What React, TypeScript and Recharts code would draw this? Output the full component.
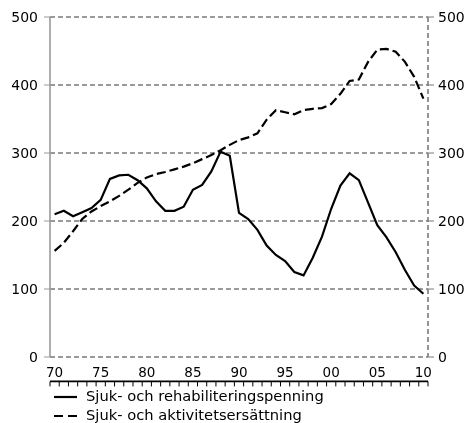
import React from "react";
import { LineChart, Line, XAxis, YAxis, CartesianGrid, Legend } from "recharts";

const years: number[] = [
  1970, 1971, 1972, 1973, 1974, 1975, 1976, 1977, 1978, 1979,
  1980, 1981, 1982, 1983, 1984, 1985, 1986, 1987, 1988, 1989,
  1990, 1991, 1992, 1993, 1994, 1995, 1996, 1997, 1998, 1999,
  2000, 2001, 2002, 2003, 2004, 2005, 2006, 2007, 2008, 2009, 2010,
];

const sjukRehab: number[] = [
  210, 215, 207, 213, 219, 231, 262, 267, 268, 260,
  248, 229, 215, 215, 221, 246, 253, 273, 302, 296,
  212, 203, 187, 164, 150, 141, 125, 120, 146, 177,
  218, 252, 270, 260, 227, 194, 176, 154, 128, 105, 93,
];

const sjukAktivitet: number[] = [
  156, 168, 185, 203, 214, 222, 229, 237, 246, 256,
  264, 269, 272, 276, 280, 285, 291, 297, 304, 312,
  319, 323, 329, 349, 363, 360, 357, 363, 365, 366,
  372, 387, 406, 408, 434, 452, 453, 449, 434, 412, 380,
];

const seriesNames: string[] = [
  "Sjuk- och rehabiliteringspenning",
  "Sjuk- och aktivitetsersättning",
];

const yTicks: number[] = [0, 100, 200, 300, 400, 500];
const xLabelTicks: number[] = [1970, 1975, 1980, 1985, 1990, 1995, 2000, 2005, 2010];
const xBoundaryTicks: number[] = [...years.map((y) => y - 0.5), years[years.length - 1] + 0.5];

const data = years.map((year, i) => ({
  year,
  rehab: sjukRehab[i],
  aktivitet: sjukAktivitet[i],
}));

const FONT = "'DejaVu Sans', Verdana, sans-serif";

const LegendContent = () => (
  <div style={{ fontFamily: FONT, fontSize: 14.7, color: "#000" }}>
    {seriesNames.map((name, i) => (
      <div
        key={name}
        style={{ display: "flex", alignItems: "center", height: 18.8, paddingLeft: 46 }}
      >
        <svg width={23} height={4} style={{ marginRight: 9 }}>
          <line
            x1={0}
            y1={2}
            x2={23}
            y2={2}
            stroke="#000"
            strokeWidth={2.2}
            strokeDasharray={i === 1 ? "9 5" : undefined}
          />
        </svg>
        <span style={{ whiteSpace: "nowrap", lineHeight: "18.8px" }}>{name}</span>
      </div>
    ))}
  </div>
);

export default function App() {
  return (
    <div style={{ position: "fixed", left: 8, top: 8 }}>
      <LineChart
        width={460}
        height={417}
        data={data}
        margin={{ top: 9, right: 0, left: 0, bottom: 0 }}
        style={{ fontFamily: FONT }}
      >
        <CartesianGrid
          vertical={false}
          stroke="#7a7a7a"
          strokeWidth={1.6}
          strokeDasharray="5 3"
        />
        <XAxis
          xAxisId="m"
          dataKey="year"
          type="number"
          domain={[1969.5, 2010.5]}
          ticks={xBoundaryTicks}
          interval={0}
          tickFormatter={() => ""}
          tickSize={5}
          height={6}
          axisLine={{ stroke: "#000", strokeWidth: 1.6 }}
          tickLine={{ stroke: "#000", strokeWidth: 1 }}
        />
        <XAxis
          dataKey="year"
          type="number"
          domain={[1969.5, 2010.5]}
          ticks={xLabelTicks}
          interval={0}
          axisLine={false}
          tickLine={false}
          tickSize={0}
          tickMargin={10}
          height={24.4}
          tick={{ fill: "#000", fontSize: 13.5, fontFamily: FONT }}
          tickFormatter={(v: number) => String(v % 100).padStart(2, "0")}
        />
        <YAxis
          domain={[0, 500]}
          ticks={yTicks}
          interval={0}
          width={42}
          tickSize={6}
          tickMargin={6}
          axisLine={{ stroke: "#999", strokeWidth: 1.6 }}
          tickLine={{ stroke: "#999", strokeWidth: 1 }}
          tick={{ fill: "#000", fontSize: 14, fontFamily: FONT }}
        />
        <YAxis
          yAxisId="r"
          orientation="right"
          domain={[0, 500]}
          ticks={yTicks}
          interval={0}
          width={40}
          tickSize={6}
          tickMargin={4}
          axisLine={{ stroke: "#7a7a7a", strokeWidth: 1.6, strokeDasharray: "5 3" }}
          tickLine={{ stroke: "#7a7a7a", strokeWidth: 1 }}
          tick={{ fill: "#000", fontSize: 14, fontFamily: FONT, textAnchor: "start" }}
        />
        <Line
          dataKey="rehab"
          name={seriesNames[0]}
          type="linear"
          stroke="#000"
          strokeWidth={2.2}
          dot={false}
          activeDot={false}
          isAnimationActive={false}
        />
        <Line
          dataKey="aktivitet"
          name={seriesNames[1]}
          type="linear"
          stroke="#000"
          strokeWidth={2.2}
          strokeDasharray="9 4"
          dot={false}
          activeDot={false}
          isAnimationActive={false}
        />
        <Line
          yAxisId="r"
          dataKey="rehab"
          type="linear"
          stroke="none"
          strokeWidth={0}
          dot={false}
          activeDot={false}
          legendType="none"
          isAnimationActive={false}
        />
        <Legend verticalAlign="bottom" align="left" content={<LegendContent />} />
      </LineChart>
    </div>
  );
}
